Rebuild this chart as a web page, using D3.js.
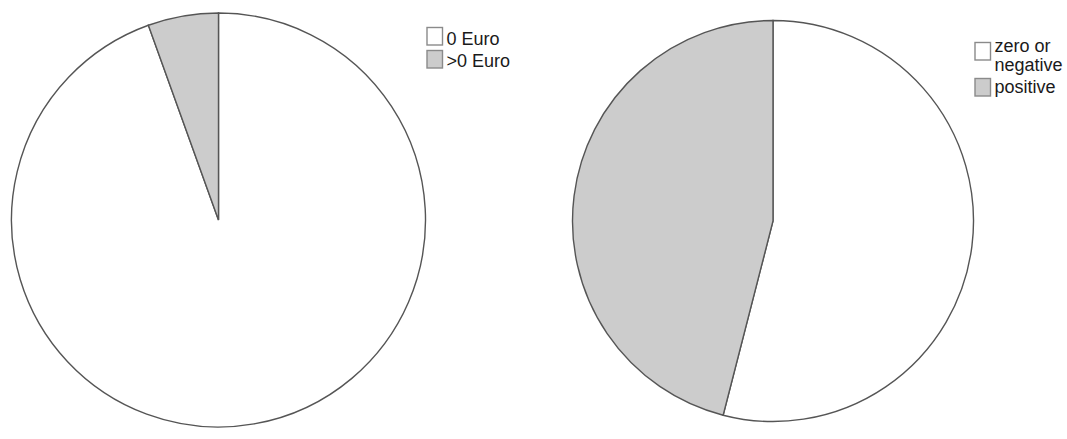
<!DOCTYPE html>
<meta charset="utf-8">
<style>
body { margin: 0; background: #fff; }
text { font-family: "Liberation Sans", Arial, sans-serif; font-size: 18px; fill: #1a1a1a; }
path.slice { stroke: #555; stroke-width: 1.4px; }
rect.key { stroke: #8a8a8a; stroke-width: 1.4px; }
</style>
<body>
<div id="pies"></div>
<script src="https://d3js.org/d3.v7.min.js"></script>
<script>
// two pies: share of zero vs non-zero amounts, and sign of the amount
var leftLabels = ["0 Euro", ">0 Euro"];
var leftValues = [94.5, 5.5];
var rightLabels = [["zero or", "negative"], ["positive"]];
var rightValues = [54.0, 46.0];
var fills = ["#ffffff", "#cccccc"];

var width = 1067, height = 439;

var svg = d3.select("#pies").append("svg")
    .attr("width", width)
    .attr("height", height);

var pie = d3.pie().sort(null);
var color = d3.scaleOrdinal().domain([0, 1]).range(fills);

function drawPie(values, cx, cy, r) {
  var arc = d3.arc().innerRadius(0).outerRadius(r);
  var g = svg.append("g").attr("transform", "translate(" + cx + "," + cy + ")");
  g.selectAll("path.slice")
    .data(pie(values))
    .enter().append("path")
    .attr("class", "slice")
    .attr("d", arc)
    .attr("fill", function (d, i) { return color(i); });
}

// boxTops: top of each key box; textDy: baseline of first line relative to box top
function drawLegend(labels, x, boxTops, textDy) {
  var g = svg.append("g").attr("transform", "translate(" + x + ",0)");
  labels.forEach(function (lab, i) {
    var lines = Array.isArray(lab) ? lab : [lab];
    g.append("rect")
      .attr("class", "key")
      .attr("x", 0).attr("y", boxTops[i])
      .attr("width", 15.5).attr("height", 17.5)
      .attr("fill", color(i));
    var t = g.append("text")
      .attr("x", 20).attr("y", boxTops[i] + textDy[i]);
    lines.forEach(function (s, j) {
      t.append("tspan").attr("x", 19.5).attr("dy", j === 0 ? 0 : 18.3).text(s);
    });
  });
}

drawPie(leftValues, 218.5, 220, 207);
drawPie(rightValues, 773, 221, 200.5);

drawLegend(leftLabels, 427, [27.5, 50.5], [17.5, 16.5]);
drawLegend(rightLabels, 975, [42.5, 78.5], [9.8, 14.2]);
</script>
